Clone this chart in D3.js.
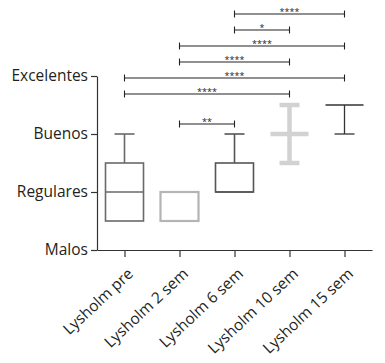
<!DOCTYPE html>
<html><head><meta charset="utf-8">
<script src="https://cdn.jsdelivr.net/npm/d3@7"></script>
<style>body{margin:0;background:#fff}svg{display:block}</style>
</head><body><svg id="c" width="385" height="363"></svg>
<script>
// ---- data ----
const categories = ["Lysholm pre","Lysholm 2 sem","Lysholm 6 sem","Lysholm 10 sem","Lysholm 15 sem"];
const yTickLabels = ["Malos","Regulares","Buenos","Excelentes"];
const yTickValues = [1,2,3,4];
const mins    = [1.5, 1.5, 2.0, 2.5, 3.0];
const q1s     = [1.5, 1.5, 2.0, 3.0, 3.5];
const medians = [2.0, 1.5, 2.0, 3.0, 3.5];
const q3s     = [2.5, 2.0, 2.5, 3.0, 3.5];
const maxs    = [3.0, 2.0, 3.0, 3.5, 3.5];
const bracketFrom   = [2, 2, 1, 1, 0, 0, 1];
const bracketTo     = [4, 3, 4, 3, 4, 3, 2];
const bracketLabels = ["****","*","****","****","****","****","**"];

// ---- layout / style ----
const boxColors = ["#6a6a6a","#b4b4b4","#555555","#d2d2d2","#333333"];
const boxWidths = [1.6, 2.2, 1.6, 4.5, 1.3];
const bracketY  = [14, 30, 46, 62, 78, 94, 124];
const boxW = 38, capW = 20;
const font = "'Open Sans', sans-serif";

const svg = d3.select("#c");
const x = d3.scalePoint().domain(categories).range([97, 372]).padding(0.5);
const y = d3.scaleLinear().domain([1,4]).range([250, 76]);

// axes
const gy = svg.append("g").attr("transform","translate(97,0)")
  .call(d3.axisLeft(y).tickValues(yTickValues).tickFormat((d,i)=>yTickLabels[i]).tickSize(6).tickSizeOuter(0).tickPadding(3));
const gx = svg.append("g").attr("transform","translate(0,250)")
  .call(d3.axisBottom(x).tickSize(7).tickSizeOuter(0).tickFormat(""));
[gy,gx].forEach(g=>{
  g.select(".domain").attr("stroke","#333").attr("stroke-width",1.2);
  g.selectAll(".tick line").attr("stroke","#333").attr("stroke-width",1.2);
});
gy.selectAll(".tick text").attr("font-family",font).attr("font-size",15.5).attr("fill","#231f20");

// x labels rotated
svg.append("g").selectAll("text").data(categories).join("text")
  .attr("transform", d=>`translate(${x(d)+6},${271}) rotate(-43)`)
  .attr("text-anchor","end").attr("dy","0.35em")
  .attr("font-family",font).attr("font-size",15.5).attr("fill","#231f20")
  .text(d=>d);

// boxes
categories.forEach((c,i)=>{
  const cx = x(c);
  const g = svg.append("g").attr("stroke",boxColors[i]).attr("stroke-width",boxWidths[i]).attr("fill","none");
  if (maxs[i] > q3s[i]) {
    g.append("line").attr("x1",cx).attr("x2",cx).attr("y1",y(q3s[i])).attr("y2",y(maxs[i]));
    g.append("line").attr("x1",cx-capW/2).attr("x2",cx+capW/2).attr("y1",y(maxs[i])).attr("y2",y(maxs[i]));
  }
  if (mins[i] < q1s[i]) {
    g.append("line").attr("x1",cx).attr("x2",cx).attr("y1",y(q1s[i])).attr("y2",y(mins[i]));
    g.append("line").attr("x1",cx-capW/2).attr("x2",cx+capW/2).attr("y1",y(mins[i])).attr("y2",y(mins[i]));
  }
  if (q3s[i] > q1s[i]) {
    g.append("rect").attr("x",cx-boxW/2).attr("width",boxW)
      .attr("y",y(q3s[i])).attr("height",y(q1s[i])-y(q3s[i]));
  }
  g.append("line").attr("x1",cx-boxW/2).attr("x2",cx+boxW/2).attr("y1",y(medians[i])).attr("y2",y(medians[i]));
});

// significance brackets
bracketLabels.forEach((lab,i)=>{
  const x1 = x(categories[bracketFrom[i]]), x2 = x(categories[bracketTo[i]]);
  const yy = bracketY[i];
  const g = svg.append("g").attr("stroke","#222").attr("stroke-width",1.1);
  g.append("line").attr("x1",x1).attr("x2",x2).attr("y1",yy).attr("y2",yy);
  g.append("line").attr("x1",x1).attr("x2",x1).attr("y1",yy-3.5).attr("y2",yy+3.5);
  g.append("line").attr("x1",x2).attr("x2",x2).attr("y1",yy-3.5).attr("y2",yy+3.5);
  svg.append("text").attr("x",(x1+x2)/2).attr("y",yy+0.5).attr("text-anchor","middle")
    .attr("font-family",font).attr("font-size",9).attr("fill","#222").text(lab);
});
</script></body></html>
